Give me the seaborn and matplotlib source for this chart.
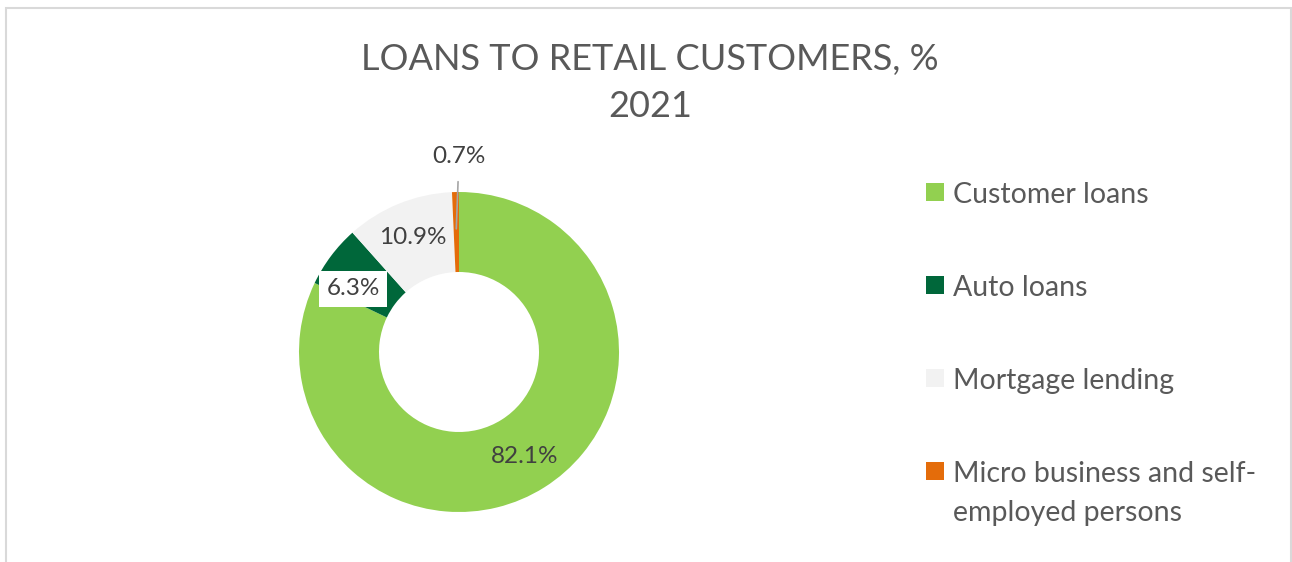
import numpy as np
import matplotlib.pyplot as plt
import matplotlib.patches as mpatches
import seaborn as sns

categories = ['Customer loans', 'Auto loans', 'Mortgage lending',
              'Micro business and self-\nemployed persons']
shares = [82.1, 6.3, 10.9, 0.7]
colors = ['#92D050', '#00673A', '#F2F2F2', '#E46C0A']
title = 'LOANS TO RETAIL CUSTOMERS, %\n2021'

sns.set_theme(style='white')
plt.rcParams['font.family'] = ['Lato', 'DejaVu Sans']
txt_col = '#595959'

W, H = 1292, 562
fig = plt.figure(figsize=(W / 100, H / 100), dpi=100)

# chart frame (bottom edge cut off in the reference)
fig.patches.append(mpatches.Rectangle((6 / W, -0.1), (1291 - 6) / W, 1.1 - 8 / H,
                                      transform=fig.transFigure, fill=False,
                                      edgecolor='#D9D9D9', linewidth=1.5))

cx, cy, r = 459, 352, 160
ax = fig.add_axes([(cx - r) / W, (H - cy - r) / H, 2 * r / W, 2 * r / H])
wedges, _ = ax.pie(shares, colors=colors, startangle=90, counterclock=False,
                   radius=1, wedgeprops=dict(width=0.5, linewidth=0))
ax.set_xlim(-1, 1)
ax.set_ylim(-1, 1)
ax.set_aspect('equal')
ax.axis('off')

# data labels
lbl_size = 17.5
for i, (w, v) in enumerate(zip(wedges, shares)):
    mid = np.deg2rad((w.theta1 + w.theta2) / 2)
    lbl = f'{v:.1f}%'
    if i == 3:
        ax.annotate(lbl, xy=(0.77 * np.cos(mid), 0.77 * np.sin(mid)),
                    xytext=(0.0, 1.22), ha='center', va='center',
                    fontsize=lbl_size, color='#404040',
                    arrowprops=dict(arrowstyle='-', color='#A6A6A6', lw=1.2,
                                    shrinkA=8, shrinkB=0),
                    annotation_clip=False)
        continue
    rr = 0.77
    ang = mid
    box = None
    if i == 1:
        ang = mid + np.deg2rad(6)
        box = dict(boxstyle='square,pad=0.3', fc='white', ec='none')
    ax.text(rr * np.cos(ang), rr * np.sin(ang), lbl, ha='center', va='center',
            fontsize=lbl_size, color='#404040', bbox=box)

fig.text(650 / W, 1 - 83 / H, title, ha='center', va='center', fontsize=26,
         color=txt_col, linespacing=1.55)

# legend
ys = [192, 285, 378, 471]
for y, lab, c in zip(ys, categories, colors):
    fig.patches.append(mpatches.Rectangle((926 / W, 1 - (y + 9) / H), 18 / W, 18 / H,
                                          transform=fig.transFigure, color=c, lw=0))
    lines = lab.split('\n')
    for k, line in enumerate(lines):
        fig.text(953 / W, 1 - (y + 3 + 39 * k) / H, line, ha='left', va='center',
                 fontsize=20.5, color=txt_col)

fig.savefig('out.png', dpi=100, facecolor='white')
